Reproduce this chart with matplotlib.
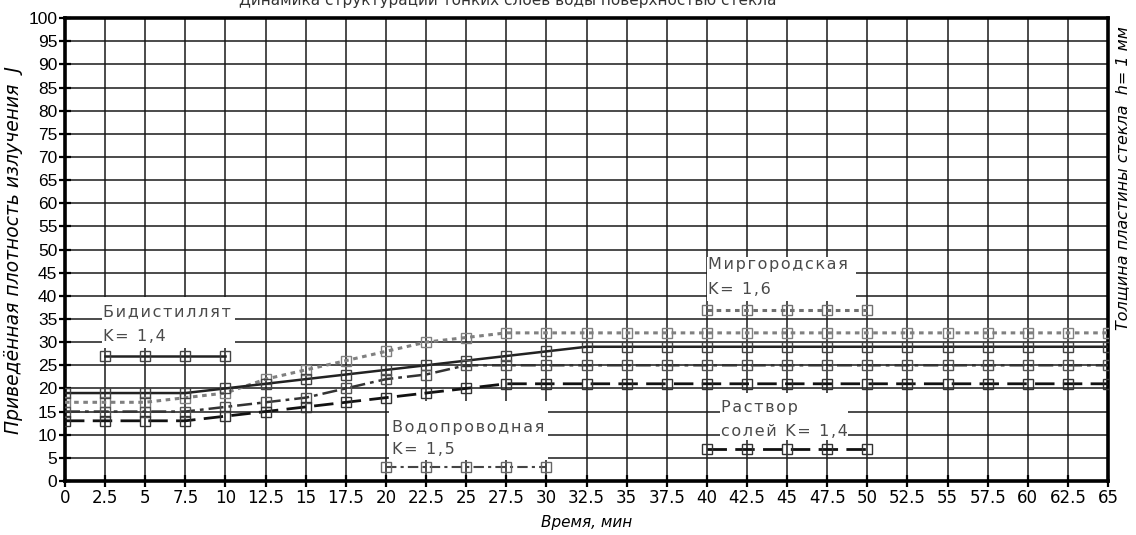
import matplotlib
matplotlib.use("Agg")
import matplotlib.pyplot as plt
from matplotlib.patches import Rectangle

# ---------------- data ----------------
time_x = [0, 2.5, 5, 7.5, 10, 12.5, 15, 17.5, 20, 22.5, 25, 27.5, 30, 32.5,
          35, 37.5, 40, 42.5, 45, 47.5, 50, 52.5, 55, 57.5, 60, 62.5, 65]

bidistillat = [19, 19, 19, 19, 20, 21, 22, 23, 24, 25, 26, 27, 28, 29,
               29, 29, 29, 29, 29, 29, 29, 29, 29, 29, 29, 29, 29]
mirgorodskaya = [17, 17, 17, 18, 19, 22, 24, 26, 28, 30, 31, 32, 32, 32,
                 32, 32, 32, 32, 32, 32, 32, 32, 32, 32, 32, 32, 32]
vodoprovodnaya = [15, 15, 15, 15, 16, 17, 18, 20, 22, 23, 25, 25, 25, 25,
                  25, 25, 25, 25, 25, 25, 25, 25, 25, 25, 25, 25, 25]
rastvor = [13, 13, 13, 13, 14, 15, 16, 17, 18, 19, 20, 21, 21, 21,
           21, 21, 21, 21, 21, 21, 21, 21, 21, 21, 21, 21, 21]

# in-chart legend samples
bid_key_x = [2.5, 5, 7.5, 10]
bid_key_y = [27, 27, 27, 27]
vod_key_x = [20, 22.5, 25, 27.5, 30]
vod_key_y = [3, 3, 3, 3, 3]
mir_key_x = [40, 42.5, 45, 47.5, 50]
mir_key_y = [37, 37, 37, 37, 37]
ras_key_x = [40, 42.5, 45, 47.5, 50]
ras_key_y = [7, 7, 7, 7, 7]

x_ticks = [i * 2.5 for i in range(27)]
x_tick_labels = ["0", "2.5", "5", "7.5", "10", "12.5", "15", "17.5", "20", "22.5",
                 "25", "27.5", "30", "32.5", "35", "37.5", "40", "42.5", "45",
                 "47.5", "50", "52.5", "55", "57.5", "60", "62.5", "65"]
y_ticks = list(range(0, 101, 5))

title_text = "Динамика структурации тонких слоёв воды поверхностью стекла"
x_label = "Время, мин"
y_label = "Приведённая плотность излучения  J"
right_label = "Толщина пластины стекла  h= 1 мм"

labels = {
    "bid": ("Бидистиллят", "K= 1,4"),
    "vod": ("Водопроводная", "K= 1,5"),
    "mir": ("Миргородская", "K= 1,6"),
    "ras": ("Раствор", "солей K= 1,4"),
}

# ---------------- figure ----------------
fig = plt.figure(figsize=(11.36, 5.35), dpi=100)
ax = fig.add_axes([0.0572, 0.101, 0.9182, 0.865])

ax.set_xlim(0, 65)
ax.set_ylim(0, 100)
ax.set_xticks(x_ticks)
ax.set_xticklabels(x_tick_labels, fontsize=12, family="DejaVu Sans")
ax.set_yticks(y_ticks)
ax.set_yticklabels([str(v) for v in y_ticks], fontsize=12.5, family="Liberation Sans")
ax.tick_params(direction="inout", length=8, width=1.6, color="black", pad=1.5)
ax.tick_params(axis="x", pad=1.5)
ax.grid(True, color="#1a1a1a", linewidth=1.1, zorder=0)
ax.set_axisbelow(True)
for s in ax.spines.values():
    s.set_linewidth(2.6)
    s.set_color("black")

# white boxes behind labels
boxes = [(2.3, 28.8, 8.3, 11.0), (20.2, 4.5, 9.9, 12.7),
         (40.0, 38.8, 9.3, 9.7), (40.8, 8.8, 8.0, 10.2)]
for bx, by, bw, bh in boxes:
    ax.add_patch(Rectangle((bx, by), bw, bh, facecolor="white", edgecolor="none", zorder=1.5))

mk = dict(marker="s", markersize=7, markerfacecolor="none", markeredgewidth=1.0)

# main series
ax.plot(time_x, mirgorodskaya, color="#808080", linestyle=(0, (1.5, 1.5)), linewidth=2.2,
        markeredgecolor="#808080", zorder=3, **mk)
ax.plot(time_x, bidistillat, color="#222222", linestyle="-", linewidth=1.8,
        markeredgecolor="#444444", zorder=3, **mk)
ax.plot(time_x, vodoprovodnaya, color="#333333", linestyle=(0, (6, 2, 1.5, 2)), linewidth=1.8,
        markeredgecolor="#555555", zorder=3, **mk)
ax.plot(time_x, rastvor, color="#111111", linestyle=(0, (7, 3)), linewidth=2.0,
        markeredgecolor="#333333", zorder=3, **mk)

# legend samples
ax.plot(bid_key_x, bid_key_y, color="#222222", linestyle="-", linewidth=1.8,
        markeredgecolor="#444444", zorder=3, **mk)
ax.plot(vod_key_x, vod_key_y, color="#444444", linestyle=(0, (5, 2, 1.5, 2)), linewidth=1.5,
        markeredgecolor="#666666", zorder=3, **mk)
ax.plot(mir_key_x, mir_key_y, color="#707070", linestyle=(0, (1.5, 1.5)), linewidth=2.2,
        markeredgecolor="#707070", zorder=3, **mk)
ax.plot(ras_key_x, ras_key_y, color="#111111", linestyle=(0, (7, 3)), linewidth=2.0,
        markeredgecolor="#333333", zorder=3, **mk)


def spaced(s):
    return "\u200a".join(s)


lab_pos = {"bid": (2.4, 36.6, 31.2), "vod": (20.4, 11.5, 6.7),
           "mir": (40.1, 46.8, 41.3), "ras": (40.9, 15.8, 10.7)}
for key, (l1, l2) in labels.items():
    lx, y1, y2 = lab_pos[key]
    ax.text(lx, y1, spaced(l1), fontsize=11.5, family="DejaVu Sans", color="#4a4a4a",
            va="center", ha="left", zorder=2)
    ax.text(lx, y2, spaced(l2), fontsize=11.5, family="DejaVu Sans", color="#4a4a4a",
            va="center", ha="left", zorder=2)

# axis titles
ax.set_xlabel(x_label, fontsize=11, style="italic", family="DejaVu Sans", labelpad=6)
ax.set_ylabel(y_label, fontsize=13.5, style="italic", family="DejaVu Sans", labelpad=4)
fig.text(0.988, 0.667, right_label, rotation=90, fontsize=11.5, style="italic",
         family="DejaVu Sans", ha="center", va="center")
fig.text(0.447, 1 - 5 / 535, title_text, fontsize=11, family="DejaVu Sans",
         color="#333333", ha="center", va="baseline")

fig.savefig("out.png", dpi=100)
